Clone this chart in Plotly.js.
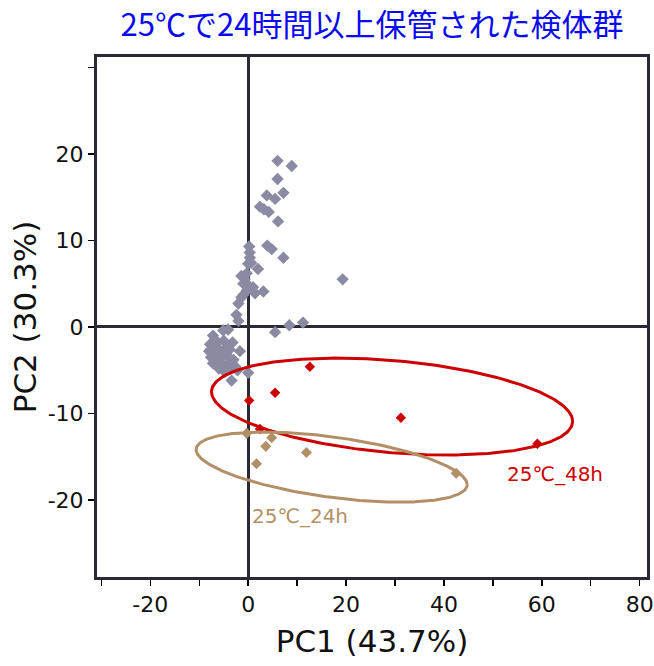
<!DOCTYPE html>
<html>
<head>
<meta charset="utf-8">
<script src="https://cdn.plot.ly/plotly-3.0.1.min.js"></script>
<style>html,body{margin:0;padding:0;background:#fff;}#chart{width:654px;height:666px;}</style>
</head>
<body>
<div id="chart"></div>
<script>
// Gray samples (other groups)
const grayPC1 = [6.0, 8.9, 6.0, 7.2, 3.8, 5.5, 2.4, 3.2, 4.2, 6.1,
  3.9, 4.8, 7.2, 19.3, 0.2, 0.3, 0.35, 0.0, 0.6, 2.0, -1.4, -0.3, -0.7, -1.0, 0.2, 1.0, 3.1, 1.4, -0.3, -1.0, -1.4, -2.0, -2.4, -2.0,
  -4.1, -5.1, -7.2, 5.5, 8.4, 11.2, -3.2, -1.7, 0.0, -3.4,
  -7.8, -8.0, -7.6, -7.0, -6.8, -6.5, -6.2, -5.8, -5.5, -5.2, -4.6, -4.4, -4.0, -3.6, -3.0, -2.6, -2.2, -7.2, -6.0, -4.8, -5.0, -3.8];
const grayPC2 = [19.2, 18.6, 17.1, 15.5, 15.2, 14.8, 13.9, 13.6, 13.3, 12.2,
  9.4, 9.0, 8.0, 5.5, 9.3, 8.6, 8.0, 7.3, 7.4, 6.7, 5.9, 6.2, 5.5, 5.0, 4.7, 4.6, 4.1, 3.9, 4.2, 3.7, 3.4, 2.7, 1.4, 0.7,
  -0.3, -0.4, -1.0, -0.6, 0.2, 0.5, -1.8, -2.8, -5.3, -6.2,
  -2.0, -2.8, -3.5, -2.4, -3.2, -4.0, -1.8, -2.8, -3.6, -4.4, -2.4, -3.2, -4.2, -4.8, -3.8, -4.6, -5.0, -4.2, -4.8, -5.2, -1.6, -2.6];

// 25℃_48h samples
const h48PC1 = [12.6, 5.5, 0.2, 2.4, 31.2, 59.1];
const h48PC2 = [-4.6, -7.6, -8.5, -11.8, -10.5, -13.5];

// 25℃_24h samples
const h24PC1 = [-0.3, 4.8, 3.6, 1.7, 11.9, 42.5];
const h24PC2 = [-12.3, -12.8, -13.8, -15.8, -14.5, -16.9];

// Confidence ellipses: [centerPC1, centerPC2, radiusPC1, radiusPC2, phaseDeg]
const ell48 = [29.4, -9.2, 36.9, 5.6, 107.7];
const ell24 = [17.05, -16.2, 27.7, 4.05, 120];

const groupLabels = ['25℃_48h', '25℃_24h'];
const xTickVals = [-20, 0, 20, 40, 60, 80];
const xTickText = ['-20', '0', '20', '40', '60', '80'];
const yTickVals = [-20, -10, 0, 10, 20, 30];
const yTickText = ['-20', '-10', '0', '10', '20', ''];

function ellipse(p) {
  const xs = [], ys = [];
  const d = p[4] * Math.PI / 180;
  for (let i = 0; i <= 360; i++) {
    const t = i * Math.PI / 180;
    xs.push(p[0] + p[2] * Math.cos(t));
    ys.push(p[1] + p[3] * Math.cos(t - d));
  }
  return {xs, ys};
}

const RED = '#cc0000', TAN = '#b28f66', GRAY = '#8a8aa3', DARK = '#2a2a36';
const e48 = ellipse(ell48), e24 = ellipse(ell24);

const traces = [
  {x: grayPC1, y: grayPC2, type: 'scatter', mode: 'markers',
   marker: {symbol: 'diamond', size: 9.5, color: GRAY}},
  {x: h48PC1, y: h48PC2, type: 'scatter', mode: 'markers',
   marker: {symbol: 'diamond', size: 8, color: RED}},
  {x: e48.xs, y: e48.ys, type: 'scatter', mode: 'lines',
   line: {color: RED, width: 3}},
  {x: h24PC1, y: h24PC2, type: 'scatter', mode: 'markers',
   marker: {symbol: 'diamond', size: 8.5, color: TAN}},
  {x: e24.xs, y: e24.ys, type: 'scatter', mode: 'lines',
   line: {color: TAN, width: 3}}
];

const layout = {
  width: 654, height: 666,
  margin: {l: 97, r: 7, t: 57, b: 89},
  showlegend: false,
  paper_bgcolor: '#ffffff', plot_bgcolor: '#ffffff',
  font: {family: 'DejaVu Sans', color: '#111111'},
  title: {text: '25℃で24時間以上保管された検体群', x: 0.5, xref: 'paper', xanchor: 'center',
          y: 0.962, yref: 'container', yanchor: 'middle',
          font: {family: 'Noto Sans CJK JP', size: 31, color: '#0a0af0'}},
  xaxis: {range: [-30.9, 81.5], showgrid: false, zeroline: true, zerolinecolor: DARK, zerolinewidth: 3,
          showline: true, mirror: true, linecolor: DARK, linewidth: 3,
          tickmode: 'array', tickvals: xTickVals, ticktext: xTickText, ticks: 'outside', ticklen: 6, tickwidth: 1.5, tickcolor: '#000',
          minor: {dtick: 10, tick0: 0, ticks: 'outside', ticklen: 6, tickwidth: 1.5, tickcolor: '#000', showgrid: false},
          tickfont: {size: 22, color: '#111'},
          title: {text: 'PC1 (43.7%)', font: {size: 31, color: '#111'}, standoff: 14}},
  yaxis: {range: [-28.9, 31.2], showgrid: false, zeroline: true, zerolinecolor: DARK, zerolinewidth: 3,
          showline: true, mirror: true, linecolor: DARK, linewidth: 3,
          tickmode: 'array', tickvals: yTickVals, ticktext: yTickText, ticks: 'outside', ticklen: 6, tickwidth: 1.5, tickcolor: '#000',
          tickfont: {size: 22, color: '#111'},
          title: {text: 'PC2 (30.3%)', font: {size: 31, color: '#111'}, standoff: 2}},
  annotations: [
    {x: 62.7, y: -17.0, xref: 'x', yref: 'y', text: groupLabels[0], showarrow: false,
     font: {size: 20, color: RED}},
    {x: 10.6, y: -21.9, xref: 'x', yref: 'y', text: groupLabels[1], showarrow: false,
     font: {size: 20, color: TAN}}
  ]
};

Plotly.newPlot('chart', traces, layout, {displayModeBar: false, staticPlot: true});
</script>
</body>
</html>
